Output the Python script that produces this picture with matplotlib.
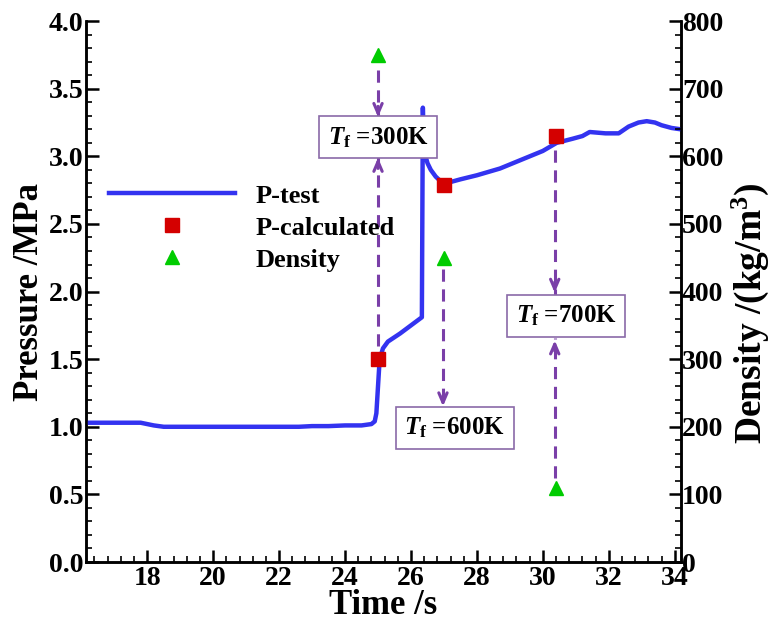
import numpy as np
import matplotlib
matplotlib.use('Agg')
from matplotlib import pyplot as plt
from matplotlib.ticker import MultipleLocator

time_s = [16.15, 16.6, 17.0, 17.5, 17.8, 18.0, 18.2, 18.5, 19.0, 20.0, 21.0, 22.0, 22.6,
          23.0, 23.5, 24.0, 24.5, 24.8, 24.9, 24.95, 25.0, 25.05, 25.15, 25.3, 25.67,
          26.0, 26.33, 26.36, 26.38, 26.42, 26.5, 26.6, 26.75, 26.88, 27.0, 27.2, 27.5,
          28.0, 28.7, 29.2, 29.7, 30.0, 30.42, 30.9, 31.2, 31.42, 31.9, 32.3, 32.6,
          32.9, 33.15, 33.4, 33.6, 33.9, 34.18]
p_test = [1.03, 1.03, 1.03, 1.03, 1.03, 1.02, 1.01, 1.0, 1.0, 1.0, 1.0, 1.0, 1.0,
          1.005, 1.005, 1.01, 1.01, 1.02, 1.04, 1.1, 1.3, 1.5, 1.58, 1.63, 1.69,
          1.75, 1.81, 3.36, 3.15, 3.02, 2.95, 2.9, 2.85, 2.82, 2.81, 2.81, 2.83,
          2.86, 2.91, 2.96, 3.01, 3.04, 3.1, 3.13, 3.15, 3.18, 3.17, 3.17, 3.22,
          3.25, 3.26, 3.25, 3.23, 3.21, 3.20]

# calculated points
t_calc = [25.0, 27.0, 30.4]
p_calc = [1.5, 2.79, 3.15]
density = [750, 450, 110]
labels = ['300K', '600K', '700K']

blue = '#3333f0'
red = '#d40000'
green = '#00cc00'
purple = '#7a3fa8'

plt.rcParams['font.family'] = ['Liberation Serif', 'DejaVu Serif']
plt.rcParams['font.weight'] = 'bold'
plt.rcParams['mathtext.fontset'] = 'custom'
plt.rcParams['mathtext.rm'] = 'Liberation Serif:bold'
plt.rcParams['mathtext.it'] = 'Liberation Serif:italic:bold'
plt.rcParams['mathtext.bf'] = 'Liberation Serif:bold'

fig = plt.figure(figsize=(7.7, 6.21), dpi=100)
ax = fig.add_axes([0.112, 0.095, 0.772, 0.871])
ax2 = ax.twinx()

ax.plot(time_s, p_test, color=blue, lw=3.2, label='P-test', zorder=3)
ax.plot(t_calc, p_calc, 's', color=red, ms=10, label='P-calculated', zorder=4)
ax2.plot(t_calc, density, '^', color=green, ms=10, label='Density', zorder=4)

ax.set_xlim(16.15, 34.18)
ax.set_ylim(0, 4.0)
ax2.set_ylim(0, 800)

# annotation boxes
box_pos = [(25.0, 3.14), (27.33, 0.99), (30.7, 1.82)]
for (bx, by), lab in zip(box_pos, labels):
    ax.text(bx, by, r'$T_\mathrm{f}$ =' + lab, fontsize=18, fontweight='bold',
            ha='center', va='center', zorder=5,
            bbox=dict(boxstyle='square,pad=0.35', fc='white', ec='#8a6aa8', lw=1.2))

# dashed arrows pointing toward the boxes (start, end) in pressure units
arrows = [((25.0, 3.64), (25.0, 3.27)),
          ((25.0, 1.60), (25.0, 3.01)),
          ((26.97, 2.17), (26.97, 1.13)),
          ((30.36, 3.05), (30.36, 1.97)),
          ((30.36, 0.62), (30.36, 1.66))]
for (x0, y0), (x1, y1) in arrows:
    ax.plot([x0, x1], [y0, y1], color=purple, lw=2.2, dashes=(4, 2.5), zorder=2)
    ax.annotate('', xy=(x1, y1), xytext=(x1, y1 + np.sign(y0 - y1) * 0.12),
                arrowprops=dict(arrowstyle='->,head_length=0.7,head_width=0.3',
                                color=purple, lw=2.2), zorder=2)

# legend
h1, l1 = ax.get_legend_handles_labels()
h2, l2 = ax2.get_legend_handles_labels()
leg = ax.legend(h1 + h2, l1 + l2, loc='upper left', bbox_to_anchor=(0.02, 0.718),
                frameon=False, fontsize=19, handlelength=4.8, handletextpad=0.75,
                labelspacing=0.32, borderaxespad=0)
leg.set_zorder(6)

# ticks
ax.xaxis.set_major_locator(MultipleLocator(2))
ax.xaxis.set_minor_locator(MultipleLocator(0.4))
ax.yaxis.set_minor_locator(MultipleLocator(0.1))
ax2.yaxis.set_major_locator(MultipleLocator(100))
ax2.yaxis.set_minor_locator(MultipleLocator(20))
ax.set_yticks(np.arange(0, 4.01, 0.5))
ax.set_yticklabels(['%.1f' % v for v in np.arange(0, 4.01, 0.5)])

for a in (ax, ax2):
    a.tick_params(which='major', direction='in', length=9, width=1.8, labelsize=20)
    a.tick_params(which='minor', direction='in', length=4.5, width=1.2)
    a.spines['top'].set_visible(False)
    for s in a.spines.values():
        s.set_linewidth(1.8)
ax.tick_params(axis='y', right=False, pad=2)
ax.tick_params(axis='x', top=False, pad=3)
ax2.tick_params(axis='y', pad=1)

ax.set_xlabel('Time /s', fontsize=25, fontweight='bold')
ax.xaxis.set_label_coords(0.5, -0.05)
ax.set_ylabel('Pressure /MPa', fontsize=25, fontweight='bold', labelpad=2)
ax2.set_ylabel(r'Density /(kg/m$^3$)', fontsize=27, fontweight='bold')
ax2.yaxis.set_label_coords(1.082, 0.46)

fig.savefig('out.png', dpi=100)
